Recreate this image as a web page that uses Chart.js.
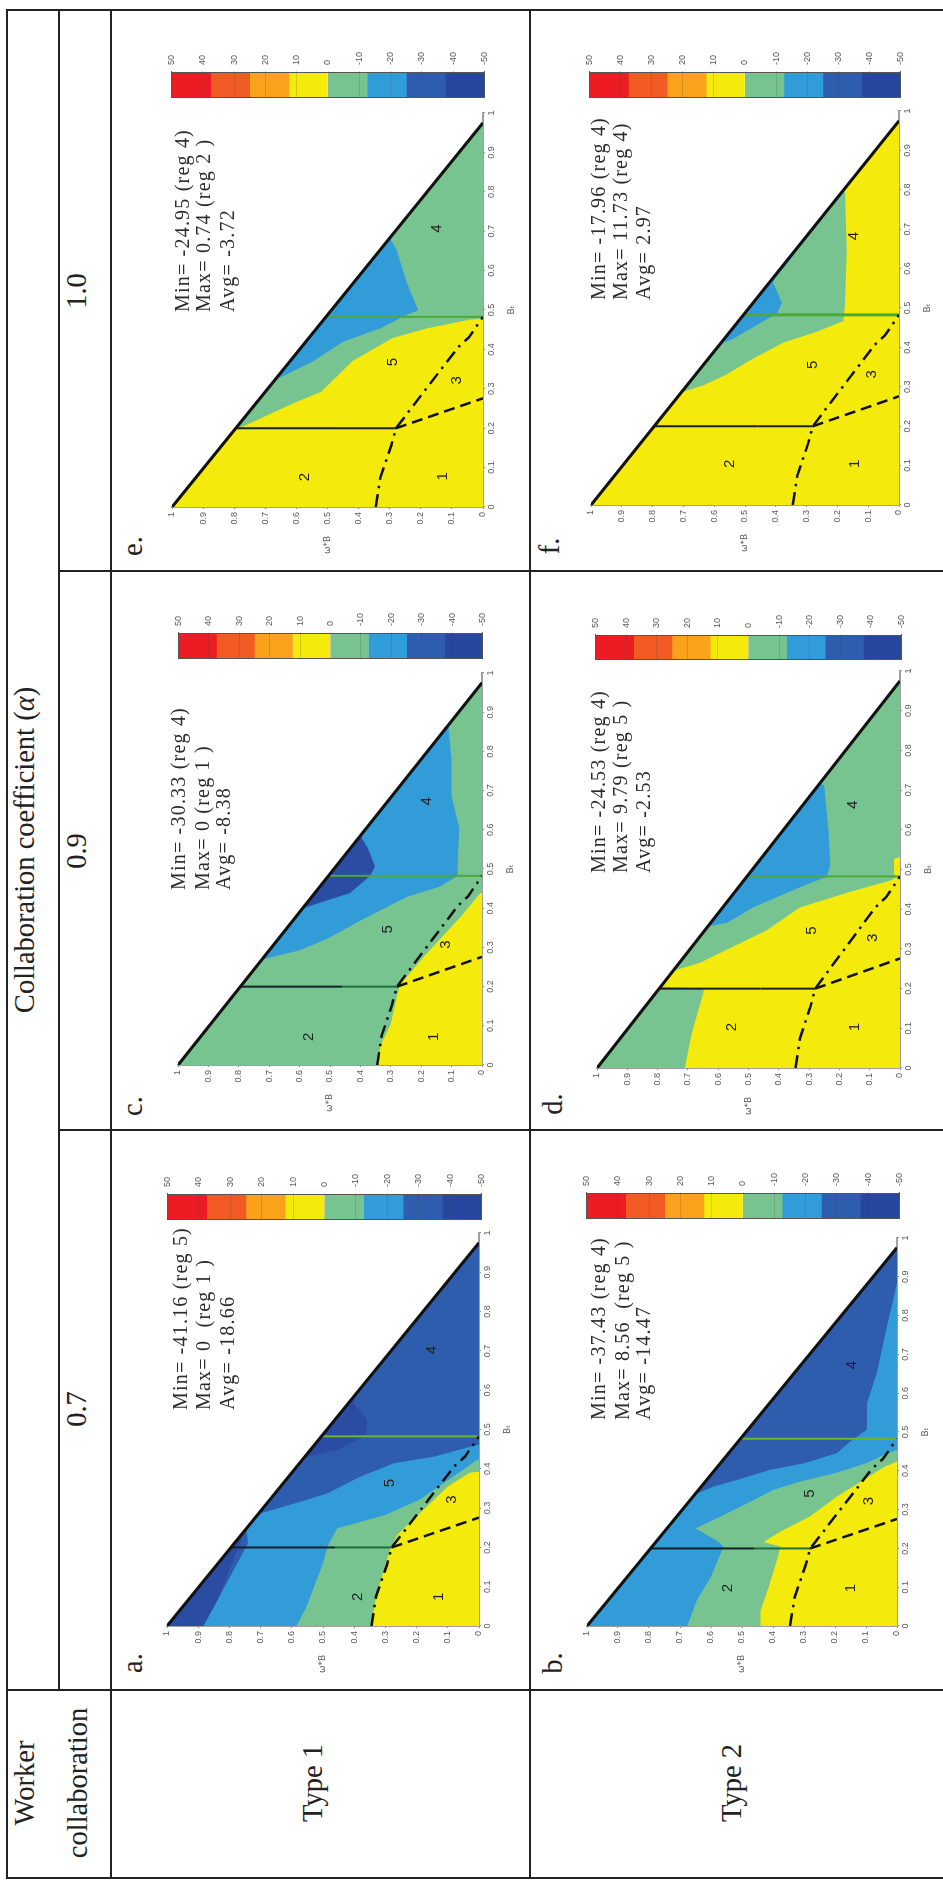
<!DOCTYPE html>
<html>
<head>
<meta charset="utf-8">
<title>Collaboration coefficient</title>
<script src="https://cdn.jsdelivr.net/npm/chart.js@4"></script>
<style>
    html, body { margin: 0; background: #fff; overflow: hidden; width: 943px; height: 1881px; }
    /* the whole table is turned a quarter turn, so everything below is laid out sideways */
    #page { position: absolute; left: 0; top: 0; width: 1881px; height: 943px; transform-origin: 0 0; transform: rotate(-90deg) translateX(-1881px); }
    #page canvas { position: absolute; filter: blur(0.5px); }
    .rule { position: absolute; background: #222; }
    .cell { position: absolute; transform: translate(-50%, -50%); font: 28.5px "Liberation Serif", serif; color: #222; white-space: pre; }
    .note { position: absolute; transform: translateY(-50%); font: 20px "Liberation Serif", serif; letter-spacing: 1.2px; color: #2b2b2b; white-space: pre; }
</style>
</head>
<body>
<div id="page"></div>
<script>
// region edges as [B, omega], B as a share of the triangle's base
const hypotenuse = [[0, 1], [1, 0]];

const aMid = [[0, .87], [.25, .75], [.3, .7], [.44, .56], [.46, .45], [.5, .36], [.54, .36], [.58, .4], [.6, .4], [1, 0]];
const aBlue = [[0, .883], [.11, .81], [.216, .74], [.25, .745], [.294, .7], [.325, .57], [.346, .486], [.39, .38], [.425, .272], [.442, .144], [.468, .027], [.473, 0]];
const aGreen = [[0, .585], [.05, .553], [.164, .5], [.211, .484], [.255, .454], [.29, .3], [.33, .19], [.38, .1], [.434, .005]];
const aYellow = [[0, .345], [.077, .33], [.2, .285], [.24, .26], [.294, .19], [.364, .1], [.4, .03], [.403, 0]];

const bBlue = [[0, 1], [.347, .653], [.369, .59], [.386, .516], [.413, .409], [.43, .3], [.457, .194], [.488, .15], [.519, .097], [.589, .097], [.668, .065], [.792, .032], [.871, .01], [.907, 0]];
const bGreen = [[0, .677], [.069, .645], [.13, .6], [.21, .56], [.225, .58], [.258, .65], [.289, .57], [.333, .462], [.36, .398], [.38, .32], [.404, .2], [.43, .1], [.457, .03], [.465, 0]];
const bYellow = [[0, .44], [.04, .44], [.104, .414], [.175, .387], [.21, .376], [.222, .43], [.25, .376], [.29, .28], [.342, .194], [.386, .108], [.42, .043], [.435, 0]];

const cBlue = [[0, 1], [.41, .59], [.45, .434], [.495, .368], [.52, .352], [.565, .374], [.6, .4], [1, 0]];
const cGreen = [[0, 1], [.276, .724], [.3, .6], [.33, .51], [.378, .4], [.44, .247], [.467, .137], [.495, .08], [.53, .08], [.62, .075], [.705, .1], [.8, .1], [.885, .11], [1, 0]];
const cYellow = [[0, .34], [.05, .335], [.107, .3], [.18, .28], [.21, .27], [.285, .19], [.33, .137], [.388, .07], [.45, .005]];

const dGreen = [[0, 1], [.366, .634], [.375, .571], [.415, .484], [.445, .396], [.474, .308], [.494, .242], [.524, .23], [.613, .236], [.73, .25], [.735, .265], [1, 0]];
const dYellow = [[0, .71], [.09, .687], [.198, .648], [.205, .65], [.21, .785], [.252, .745], [.272, .659], [.306, .571], [.356, .44], [.415, .33], [.455, .165], [.484, .033], [.494, .01], [.5, .02], [.54, .02], [.545, 0]];

const eGreen = [[0, 1], [.33, .67], [.38, .545], [.43, .45], [.465, .33], [.5, .246], [.512, .208], [.586, .246], [.67, .278], [.7, .3], [1, 0]];
const eYellow = [[0, 1], [.205, .795], [.21, .77], [.27, .61], [.3, .52], [.38, .42], [.44, .29], [.465, .18], [.488, .04], [.49, 0]];

const fGreen = [[0, 1], [.419, .581], [.433, .537], [.474, .45], [.498, .397], [.526, .38], [.581, .41], [1, 0]];
const fYellow = [[0, 1], [.293, .707], [.312, .634], [.34, .559], [.377, .483], [.423, .375], [.451, .267], [.479, .18], [.526, .175], [.665, .17], [.814, .175], [.825, .175], [1, 0]];

// boundaries between the numbered regions, same in all panels
const dashDotEdge = [[0, .345], [.077, .33], [.16, .295], [.205, .28], [.298, .192], [.416, .08], [.442, .045], [.495, 0]];
const dashedEdge = [[.205, .28], [.283, 0]];
const solidEdge = [[.205, .795], [.205, .28]];
const greenEdge = [[.495, .505], [.495, 0]];

const aRegions = [['1', .076, .13], ['2', .076, .388], ['3', .33, .087], ['4', .72, .15], ['5', .373, .285]];
const bRegions = [['1', .1, .15], ['2', .1, .545], ['3', .33, .09], ['4', .69, .145], ['5', .35, .28]];
const cRegions = [['1', .074, .16], ['2', .074, .57], ['3', .315, .12], ['4', .69, .18], ['5', .355, .31]];
const dRegions = [['1', .106, .15], ['2', .106, .555], ['3', .336, .09], ['4', .68, .155], ['5', .355, .29]];
const eRegions = [['1', .08, .128], ['2', .078, .572], ['3', .33, .084], ['4', .725, .148], ['5', .377, .29]];
const fRegions = [['1', .107, .143], ['2', .107, .55], ['3', .34, .087], ['4', .7, .146], ['5', .365, .28]];

const aNotes = ['Min= -41.16 (reg 5)', 'Max= 0  (reg 1 )', 'Avg= -18.66'];
const bNotes = ['Min= -37.43 (reg 4)', 'Max= 8.56  (reg 5 )', 'Avg= -14.47'];
const cNotes = ['Min= -30.33 (reg 4)', 'Max= 0 (reg 1 )', 'Avg= -8.38'];
const dNotes = ['Min= -24.53 (reg 4)', 'Max= 9.79 (reg 5 )', 'Avg= -2.53'];
const eNotes = ['Min= -24.95 (reg 4)', 'Max= 0.74 (reg 2 )', 'Avg= -3.72'];
const fNotes = ['Min= -17.96 (reg 4)', 'Max= 11.73 (reg 4)', 'Avg= 2.97'];

const colorbarEdges = [50, 37.5, 25, 12.5, 0, -12.5, -25, -37.5, -50];
const colorbarColors = ['#ED1C24', '#F15A22', '#FAA21B', '#F4EA0C', '#77C490', '#329CD8', '#2F5DAE', '#27479E'];

const YELLOW = '#F4EA0C', GREEN = '#77C490', BLUE = '#329CD8', MID = '#2F5DAE', DARK = '#2A4DA3';

// the drawn triangle stops short of the 1 tick on the B axis
const triangleBase = 0.975;
const FRAME = 1881;

// x0/x1 = screen x of omega 0/1, y0/yt = screen y of B 0/triangle tip, bar = colorbar box
const panels = [
    { name: 'a.', x0: 479, x1: 167, y0: 1626, yt: 1243, bar: [167, 482, 1195, 1220], noteY: 1410, noteX: [180, 203, 227], tagX: 133, tagY: 1663,
      base: DARK, layers: [[aMid, MID], [aBlue, BLUE], [aGreen, GREEN], [aYellow, YELLOW]], regions: aRegions, notes: aNotes, lower: '#1f6e3c', green: '#6DB52B', greenWidth: 2 },
    { name: 'b.', x0: 897, x1: 587, y0: 1626, yt: 1248, bar: [586, 900, 1194, 1219], noteY: 1420, noteX: [598, 622, 643], tagX: 553, tagY: 1663,
      base: MID, layers: [[bBlue, BLUE], [bGreen, GREEN], [bYellow, YELLOW]], regions: bRegions, notes: bNotes, lower: '#1f6e3c', green: '#6DB52B', greenWidth: 2 },
    { name: 'c.', x0: 482, x1: 178, y0: 1065, yt: 683, bar: [178, 483, 634, 659], noteY: 890, noteX: [178, 202, 223], tagX: 133, tagY: 1106,
      base: DARK, layers: [[cBlue, BLUE], [cGreen, GREEN], [cYellow, YELLOW]], regions: cRegions, notes: cNotes, lower: '#1f6e3c', green: '#4CA83A', greenWidth: 2 },
    { name: 'd.', x0: 900, x1: 597, y0: 1068, yt: 681, bar: [595, 902, 636, 660], noteY: 873, noteX: [598, 620, 643], tagX: 553, tagY: 1104,
      base: BLUE, layers: [[dGreen, GREEN], [dYellow, YELLOW]], regions: dRegions, notes: dNotes, lower: '#222', green: '#4CA83A', greenWidth: 2 },
    { name: 'e.', x0: 483, x1: 172, y0: 507, yt: 123, bar: [171, 485, 73, 98], noteY: 312, noteX: [182, 203, 227], tagX: 133, tagY: 546,
      base: BLUE, layers: [[eGreen, GREEN], [eYellow, YELLOW]], regions: eRegions, notes: eNotes, lower: '#222', green: '#4CA83A', greenWidth: 2 },
    { name: 'f.', x0: 899, x1: 591, y0: 505, yt: 121, bar: [589, 901, 73, 98], noteY: 300, noteX: [598, 620, 643], tagX: 550, tagY: 546,
      base: BLUE, layers: [[fGreen, GREEN], [fYellow, YELLOW]], regions: fRegions, notes: fNotes, lower: '#222', green: '#4CA83A', greenWidth: 3 },
];

const page = document.getElementById('page');

function rule(x1, y1, x2, y2) {
    const d = document.createElement('div');
    d.className = 'rule';
    const t = 2;
    d.style.left = (FRAME - Math.max(y1, y2) - t / 2) + 'px';
    d.style.top = (x1 - t / 2) + 'px';
    d.style.width = (Math.abs(y2 - y1) + t) + 'px';
    d.style.height = (x2 - x1 + t) + 'px';
    page.appendChild(d);
}

function cell(html, x, y) {
    const d = document.createElement('div');
    d.className = 'cell';
    d.innerHTML = html;
    d.style.left = (FRAME - y) + 'px';
    d.style.top = x + 'px';
    page.appendChild(d);
}

function addCanvas(left, top, width, height) {
    const c = document.createElement('canvas');
    c.width = width;
    c.height = height;
    c.style.left = left + 'px';
    c.style.top = top + 'px';
    c.style.width = width + 'px';
    c.style.height = height + 'px';
    page.appendChild(c);
    return c;
}

const points = list => list.map(p => ({ x: p[0] * triangleBase, y: p[1] }));

const band = (list, color) => ({
    data: points(list), showLine: true, pointRadius: 0, borderWidth: 0, backgroundColor: color, fill: 'origin',
});

const edge = (list, color, width, dash) => ({
    data: points(list), showLine: true, pointRadius: 0, borderWidth: width, borderColor: color, borderDash: dash || [], fill: false,
});

const regionLabels = {
    id: 'regionLabels',
    afterDatasetsDraw(chart, args, opts) {
        const { ctx, scales: { x, y } } = chart;
        ctx.save();
        ctx.fillStyle = '#222';
        ctx.font = '15px "Liberation Sans"';
        ctx.textAlign = 'center';
        ctx.textBaseline = 'middle';
        opts.regions.forEach(r => ctx.fillText(r[0], x.getPixelForValue(r[1] * triangleBase), y.getPixelForValue(r[2])));
        ctx.fillStyle = '#5a5a5a';
        ctx.font = '9px "DejaVu Sans"';
        ctx.fillText('ω*B', x.left - 38, y.getPixelForValue(.5));
        ctx.restore();
    },
};

const tickFont = { family: 'Liberation Sans', size: 9 };
const tickText = v => String(+(+v).toFixed(1));

function triangleChart(p) {
    const padLeft = 50, padBottom = 34, padTop = 10, padRight = 12;
    const plotWidth = Math.round((p.y0 - p.yt) / triangleBase);
    const plotHeight = p.x0 - p.x1;
    const canvas = addCanvas(FRAME - p.y0 - padLeft, p.x1 - padTop, plotWidth + padLeft + padRight, plotHeight + padTop + padBottom);

    const painted = [band(hypotenuse, p.base)].concat(p.layers.map(l => band(l[0], l[1])));
    const marks = [
        edge(hypotenuse, '#111', 3),
        edge(dashDotEdge, '#111', 2.5, [13, 6, 2.5, 6]),
        edge(dashedEdge, '#111', 2.5, [11, 6]),
        edge([[solidEdge[0][0], .46], solidEdge[1]], p.lower, 2),
        edge([solidEdge[0], [solidEdge[0][0], .46]], '#14222a', 2),
        edge(greenEdge, p.green, p.greenWidth),
    ];

    return new Chart(canvas, {
        type: 'scatter',
        // later datasets are painted first
        data: { datasets: marks.concat(painted.reverse()) },
        options: {
            responsive: false,
            animation: false,
            events: [],
            layout: { padding: { top: padTop, right: padRight } },
            scales: {
                x: {
                    type: 'linear', min: 0, max: 1,
                    afterFit: s => { s.height = padBottom; },
                    grid: { display: true, drawOnChartArea: false, tickLength: 2, color: '#888' },
                    border: { color: '#a0a0a0', width: 2 },
                    ticks: { stepSize: .1, autoSkip: false, maxRotation: 0, padding: 1, font: tickFont, color: '#5a5a5a', callback: tickText },
                    title: { display: true, text: 'Bₜ', color: '#5a5a5a', padding: { top: 1, bottom: 0 }, font: { family: 'DejaVu Sans', size: 9 } },
                },
                y: {
                    min: 0, max: 1,
                    afterFit: s => { s.width = padLeft; },
                    grid: { display: true, drawOnChartArea: false, tickLength: 2, color: '#888' },
                    border: { color: '#a0a0a0', width: 2 },
                    ticks: { stepSize: .1, autoSkip: false, padding: 3, font: tickFont, color: '#5a5a5a', callback: tickText },
                },
            },
            plugins: { legend: { display: false }, tooltip: { enabled: false }, regionLabels: { regions: p.regions } },
        },
        plugins: [regionLabels],
    });
}

function colorbarChart(p) {
    const [barX1, barX0, barYtop, barYbottom] = p.bar;
    const padRight = 34, padV = 11;
    const canvas = addCanvas(FRAME - barYbottom, barX1 - padV, (barYbottom - barYtop) + padRight, (barX0 - barX1) + padV * 2);
    return new Chart(canvas, {
        type: 'bar',
        data: {
            labels: [''],
            datasets: colorbarColors.map((color, i) => ({
                data: [[colorbarEdges[i + 1], colorbarEdges[i]]],
                backgroundColor: color, borderWidth: 0, barPercentage: 1, categoryPercentage: 1, grouped: false,
            })),
        },
        options: {
            responsive: false,
            animation: false,
            events: [],
            layout: { padding: { top: padV, bottom: padV } },
            scales: {
                x: {
                    display: true,
                    afterFit: s => { s.height = 0; },
                    grid: { offset: true, z: 1, color: '#555', drawTicks: false },
                    border: { display: false },
                    ticks: { display: false },
                },
                y: {
                    position: 'right', min: -50, max: 50,
                    afterFit: s => { s.width = padRight; },
                    grid: { z: 1, tickLength: 2, color: c => Math.abs(c.tick.value) === 50 ? '#555' : 'rgba(60,60,60,.18)' },
                    border: { display: false },
                    ticks: { stepSize: 10, autoSkip: false, padding: 6, font: tickFont, color: '#5a5a5a' },
                },
            },
            plugins: { legend: { display: false }, tooltip: { enabled: false } },
        },
    });
}

// table rules, in screen coordinates
rule(7, 10, 7, 1878);
rule(59, 10, 59, 1690);
rule(111, 10, 111, 1878);
rule(530, 10, 530, 1878);
rule(7, 10, 943, 10);
rule(59, 571, 943, 571);
rule(59, 1130, 943, 1130);
rule(7, 1690, 943, 1690);
rule(7, 1878, 943, 1878);

cell('Collaboration coefficient (<i>α</i>)', 25, 850);
cell('1.0', 77, 291);
cell('0.9', 77, 851);
cell('0.7', 77, 1409);
cell('Worker', 25, 1783);
cell('collaboration', 78, 1783);
cell('Type 1', 313, 1783);
cell('Type 2', 732, 1783);

panels.forEach(p => {
    triangleChart(p);
    colorbarChart(p);
    cell(p.name, p.tagX, p.tagY);
    p.notes.forEach((text, i) => {
        const d = document.createElement('div');
        d.className = 'note';
        d.textContent = text;
        d.style.left = (FRAME - p.noteY) + 'px';
        d.style.top = p.noteX[i] + 'px';
        page.appendChild(d);
    });
});
</script>
</body>
</html>
